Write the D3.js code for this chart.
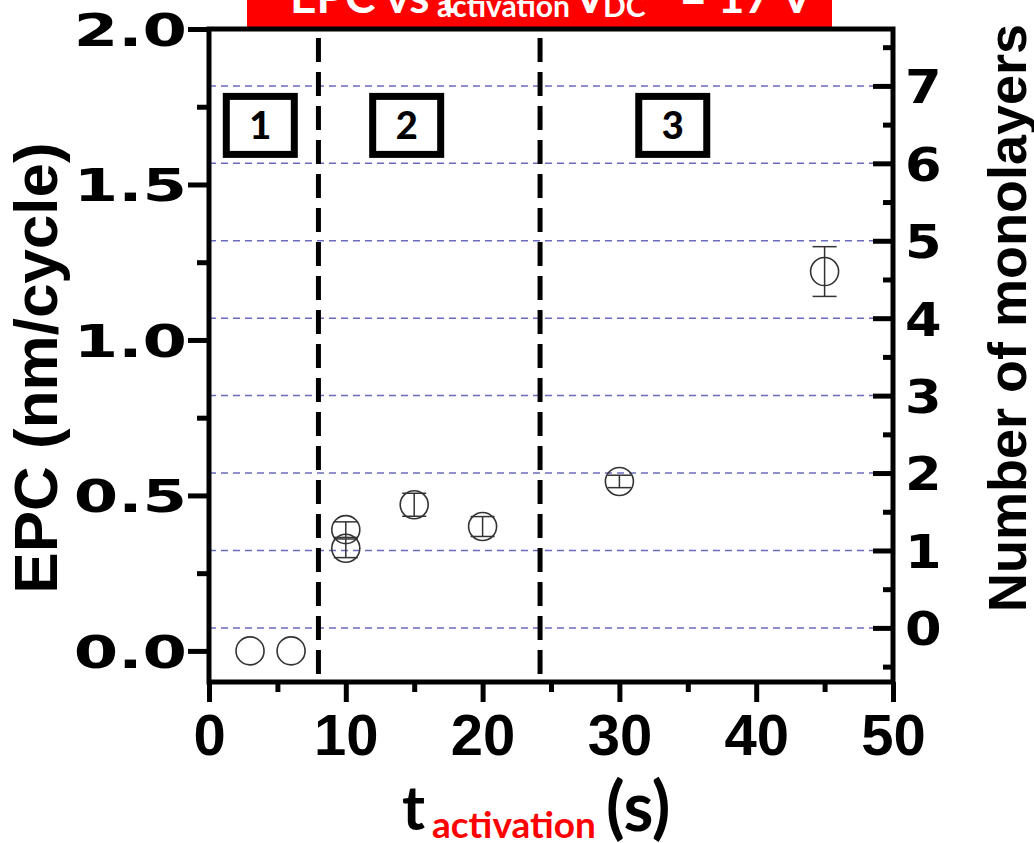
<!DOCTYPE html>
<html>
<head>
<meta charset="utf-8">
<script src="https://cdn.jsdelivr.net/npm/d3@7"></script>
<style>
  body { margin: 0; background: #fff; }
</style>
</head>
<body>
<div id="chart"></div>
<script>
// EPC vs activation time, with monolayer axis on the right
// ========================================================

// data
var tActivation = [3, 6, 10, 10, 15, 20, 30, 45];
var epcValues   = [0.0, 0.0, 0.39, 0.33, 0.47, 0.40, 0.545, 1.22];
var epcErrors   = [0, 0, 0.025, 0.03, 0.037, 0.032, 0.02, 0.08];

var xTickValues  = [0, 10, 20, 30, 40, 50];
var xMinorValues = [5, 15, 25, 35, 45];
var yTickValues  = [0.0, 0.5, 1.0, 1.5, 2.0];
var yMinorValues = [0.25, 0.75, 1.25, 1.75];
var monoTicks    = [0, 1, 2, 3, 4, 5, 6, 7];
var monoMinor    = [-0.5, 0.5, 1.5, 2.5, 3.5, 4.5, 5.5, 6.5, 7.5];

// 1 monolayer in nm, and where monolayer 0 sits on the EPC axis
var monoStep   = 0.249;
var monoOffset = 0.074;

// region borders (s) and the boxed labels
var regionBorders = [8, 24.2];
var regionNames   = ["1", "2", "3"];
var regionNameX   = [3.75, 14.45, 33.9];
var regionNameY   = 1.69;

var width = 1034,
    height = 843;

var margin = {left: 209, right: 141, top: 29, bottom: 161};

var svg = d3.select("#chart").append("svg")
    .attr("width", width)
    .attr("height", height);

var x = d3.scaleLinear()
    .domain([0, 50])
    .range([margin.left, width - margin.right]);

var y = d3.scaleLinear()
    .domain([-0.1, 2.0])
    .range([height - margin.bottom, margin.top]);

// right axis: monolayers mapped onto the EPC scale
var yMono = d3.scaleLinear()
    .domain([(-0.1 - monoOffset) / monoStep, (2.0 - monoOffset) / monoStep])
    .range([height - margin.bottom, margin.top]);

// red title band (cut off at the top)
svg.append("rect")
    .attr("x", 247).attr("y", 0)
    .attr("width", 585).attr("height", 27)
    .attr("fill", "#ff0000");

var title = svg.append("text")
    .attr("font-family", "Lato, sans-serif")
    .attr("font-weight", "bold")
    .attr("fill", "#fff")
    .attr("font-size", 46);
title.append("tspan").attr("x", 290).attr("y", 13).text("EPC vs t");
title.append("tspan").attr("x", 437).attr("y", 17).attr("font-size", 30).text("activation");
title.append("tspan").attr("x", 574).attr("y", 13).text("V");
title.append("tspan").attr("x", 603).attr("y", 17).attr("font-size", 30).text("DC");
title.append("tspan").attr("x", 680).attr("y", 13).text("= 17 V");

// horizontal monolayer grid
svg.selectAll(".mono-grid")
    .data(monoTicks)
    .enter().append("line")
    .attr("class", "mono-grid")
    .attr("x1", x(0)).attr("x2", x(50))
    .attr("y1", d => yMono(d)).attr("y2", d => yMono(d))
    .attr("stroke", "#6b6bbf")
    .attr("stroke-width", 1.5)
    .attr("stroke-dasharray", "7,5");

// region dividers
svg.selectAll(".divider")
    .data(regionBorders)
    .enter().append("line")
    .attr("class", "divider")
    .attr("x1", d => x(d)).attr("x2", d => x(d))
    .attr("y1", 38).attr("y2", y(-0.1))
    .attr("stroke", "#000")
    .attr("stroke-width", 5)
    .attr("stroke-dasharray", "24,10");

// boxed region numbers
var boxes = svg.selectAll(".region")
    .data(regionNames)
    .enter().append("g")
    .attr("class", "region")
    .attr("transform", (d, i) => "translate(" + x(regionNameX[i]) + "," + y(regionNameY) + ")");
boxes.append("rect")
    .attr("x", -34).attr("y", -29)
    .attr("width", 68).attr("height", 58)
    .attr("fill", "#fff")
    .attr("stroke", "#000")
    .attr("stroke-width", 7);
boxes.append("text")
    .attr("text-anchor", "middle")
    .attr("dy", "0.36em")
    .attr("font-family", "Lato, sans-serif")
    .attr("font-weight", "900")
    .attr("font-size", 38)
    .text(d => d);

// error bars
var pts = tActivation.map((t, i) => ({t: t, v: epcValues[i], e: epcErrors[i]}));
var withErr = pts.filter(d => d.e > 0);

svg.selectAll(".err")
    .data(withErr)
    .enter().append("line")
    .attr("class", "err")
    .attr("x1", d => x(d.t)).attr("x2", d => x(d.t))
    .attr("y1", d => y(d.v - d.e)).attr("y2", d => y(d.v + d.e))
    .attr("stroke", "#333").attr("stroke-width", 1.5);

svg.selectAll(".cap")
    .data(withErr.flatMap(d => [d.v - d.e, d.v + d.e].map(v => ({t: d.t, v: v}))))
    .enter().append("line")
    .attr("class", "cap")
    .attr("x1", d => x(d.t) - 12).attr("x2", d => x(d.t) + 12)
    .attr("y1", d => y(d.v)).attr("y2", d => y(d.v))
    .attr("stroke", "#333").attr("stroke-width", 1.5);

// points
svg.selectAll(".pt")
    .data(pts)
    .enter().append("circle")
    .attr("class", "pt")
    .attr("cx", d => x(d.t))
    .attr("cy", d => y(d.v))
    .attr("r", 14)
    .attr("fill", "none")
    .attr("stroke", "#333")
    .attr("stroke-width", 1.6);

// axes
function styleTicks(g) {
    g.select(".domain").remove();
    g.selectAll("line").attr("stroke", "#000").attr("stroke-width", 5);
}

svg.append("g")
    .attr("transform", "translate(0," + y(-0.1) + ")")
    .call(d3.axisBottom(x).tickValues(xMinorValues).tickSize(10).tickFormat(""))
    .call(styleTicks);

var xAxis = svg.append("g")
    .attr("transform", "translate(0," + y(-0.1) + ")")
    .call(d3.axisBottom(x).tickValues(xTickValues).tickSize(20).tickPadding(12))
    .call(styleTicks);
xAxis.selectAll("text")
    .attr("font-family", "Liberation Sans, Arial, sans-serif")
    .attr("font-weight", "bold")
    .attr("font-size", 58)
    .attr("fill", "#000");

svg.append("g")
    .attr("transform", "translate(" + x(0) + ",0)")
    .call(d3.axisLeft(y).tickValues(yMinorValues).tickSize(12).tickFormat(""))
    .call(styleTicks);

var yAxis = svg.append("g")
    .attr("transform", "translate(" + x(0) + ",0)")
    .call(d3.axisLeft(y).tickValues(yTickValues).tickSize(21).tickFormat(d3.format(".1f")))
    .call(styleTicks);
yAxis.selectAll("text")
    .attr("x", 0)
    .attr("dy", "0.36em")
    .attr("transform", "translate(-22,0) scale(1.42,1)")
    .attr("font-family", "DejaVu Sans, sans-serif")
    .attr("font-weight", "bold")
    .attr("font-size", 45)
    .attr("fill", "#000");

svg.append("g")
    .attr("transform", "translate(" + x(50) + ",0)")
    .call(d3.axisRight(yMono).tickValues(monoMinor).tickSize(-10).tickFormat(""))
    .call(styleTicks);

var yAxisR = svg.append("g")
    .attr("transform", "translate(" + x(50) + ",0)")
    .call(d3.axisRight(yMono).tickValues(monoTicks).tickSize(-20).tickPadding(12))
    .call(styleTicks);
yAxisR.selectAll("text")
    .attr("x", 0)
    .attr("dy", "0.36em")
    .attr("transform", "translate(12,0) scale(1.12,1)")
    .attr("font-family", "DejaVu Sans, sans-serif")
    .attr("font-weight", "bold")
    .attr("font-size", 47)
    .attr("fill", "#000");

// frame
svg.append("rect")
    .attr("x", x(0)).attr("y", y(2.0))
    .attr("width", x(50) - x(0))
    .attr("height", y(-0.1) - y(2.0))
    .attr("fill", "none")
    .attr("stroke", "#000")
    .attr("stroke-width", 5);

// axis titles
svg.append("text")
    .attr("transform", "translate(57,368) rotate(-90)")
    .attr("text-anchor", "middle")
    .attr("font-family", "Liberation Sans, Arial, sans-serif")
    .attr("font-weight", "bold")
    .attr("font-size", 62)
    .text("EPC (nm/cycle)");

svg.append("text")
    .attr("transform", "translate(1026,318) rotate(-90)")
    .attr("text-anchor", "middle")
    .attr("font-family", "Liberation Sans, Arial, sans-serif")
    .attr("font-weight", "bold")
    .attr("font-size", 54)
    .text("Number of monolayers");

var xTitle = svg.append("text")
    .attr("font-family", "Lato, sans-serif")
    .attr("font-weight", "bold");
xTitle.append("tspan").attr("x", 402).attr("y", 830).attr("font-size", 62).text("t");
xTitle.append("tspan").attr("x", 432).attr("y", 838).attr("font-size", 37).attr("fill", "#ff0000").text("activation");
xTitle.append("tspan").attr("x", 606).attr("y", 831).attr("font-size", 68).text("(s)");
</script>
</body>
</html>
